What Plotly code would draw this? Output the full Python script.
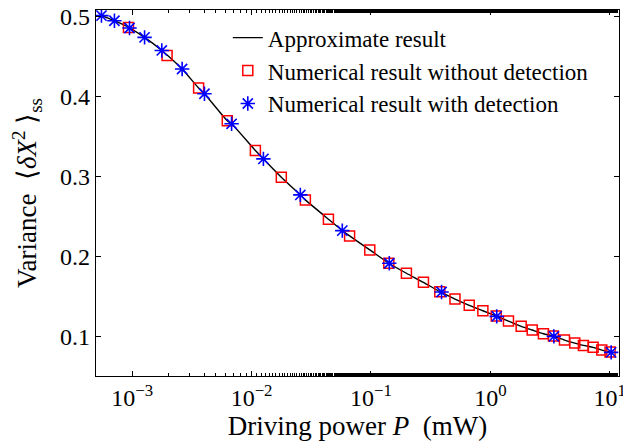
import plotly.graph_objects as go

# Approximate result (curve)
line_x = [5.53e-4, 7.1e-4, 9.4e-4, 1.27e-3, 1.77e-3, 2.62e-3, 3.6e-3, 4.03e-3, 6.26e-3, 6.8e-3,
          0.01076, 0.01256, 0.01774, 0.0256, 0.0282, 0.044, 0.0575, 0.0662, 0.0977, 0.141,
          0.198, 0.275, 0.377, 0.505, 0.665, 0.865, 1.119, 1.417, 1.81, 2.24, 2.78, 3.37,
          4.17, 5.09, 6.01, 7.25, 8.57, 10.05, 10.3]
line_y = [0.501, 0.4946, 0.486, 0.4738, 0.4575, 0.4343, 0.4105, 0.4034, 0.3696, 0.3659,
          0.3325, 0.3221, 0.2993, 0.2771, 0.2709, 0.2468, 0.2325, 0.2259, 0.2084, 0.1918,
          0.1793, 0.168, 0.1563, 0.1471, 0.1393, 0.1325, 0.1259, 0.1196, 0.113, 0.1084, 0.1038, 0.1009,
          0.0959, 0.0921, 0.0892, 0.0868, 0.0834, 0.0809, 0.0805]

# Numerical result without detection (squares)
sq_x = [9.31e-4, 1.96e-3, 3.6e-3, 6.26e-3, 0.01076, 0.01774, 0.0282, 0.044, 0.0662, 0.0977,
        0.141, 0.198, 0.275, 0.377, 0.505, 0.665, 0.865, 1.119, 1.417, 1.81,
        2.24, 2.78, 3.37, 4.17, 5.09, 6.01, 7.25, 8.57, 10.05]
sq_y = [0.4862, 0.4513, 0.4105, 0.3696, 0.3325, 0.2993, 0.2709, 0.2468, 0.2259, 0.2084,
        0.1918, 0.1793, 0.168, 0.1563, 0.1471, 0.1393, 0.1325, 0.1259, 0.1196, 0.113,
        0.1084, 0.1038, 0.1009, 0.0959, 0.0921, 0.0892, 0.0868, 0.0834, 0.0809]

# Numerical result with detection (stars)
st_x = [5.53e-4, 7.1e-4, 9.5e-4, 1.27e-3, 1.77e-3, 2.62e-3, 4.03e-3, 6.8e-3, 0.01256, 0.0256,
        0.0575, 0.1423, 0.39, 1.13, 3.4, 10.26]
st_y = [0.501, 0.4946, 0.4855, 0.4738, 0.4575, 0.4343, 0.4034, 0.3659, 0.3221, 0.2771,
        0.2325, 0.1918, 0.1559, 0.1255, 0.1005, 0.0805]

x_tickvals = [1e-3, 1e-2, 1e-1, 1e0, 1e1]
x_ticktext = ["10<sup>−3</sup>", "10<sup>−2</sup>", "10<sup>−1</sup>", "10<sup>0</sup>", "10<sup>1</sup>"]
y_tickvals = [0.1, 0.2, 0.3, 0.4, 0.5]
y_ticktext = ["0.1", "0.2", "0.3", "0.4", "0.5"]

FONT = "Liberation Serif, Times New Roman, serif"
NB = "\u00a0"

fig = go.Figure()
fig.add_trace(go.Scatter(x=line_x, y=line_y, mode="lines", name="Approximate result",
                         line=dict(color="black", width=1.4, shape="spline", smoothing=0.6)))
fig.add_trace(go.Scatter(x=sq_x, y=sq_y, mode="markers", name="Numerical result without detection",
                         marker=dict(symbol="square-open", size=10, color="#ff0000",
                                     line=dict(color="#ff0000", width=1.5))))
fig.add_trace(go.Scatter(x=st_x, y=st_y, mode="markers", name="Numerical result with detection",
                         marker=dict(symbol="asterisk-open", size=12, color="#0000ff",
                                     line=dict(color="#0000ff", width=1.6))))

axis_common = dict(showline=True, linecolor="black", linewidth=1.4, mirror="ticks",
                   ticks="inside", ticklen=5, tickwidth=1, tickcolor="black",
                   showgrid=False, zeroline=False, ticklabeloverflow="allow",
                   tickfont=dict(family=FONT, size=24, color="black"))

fig.update_xaxes(type="log", range=[-3.303, 1.077], tickvals=x_tickvals, ticktext=x_ticktext,
                 minor=dict(ticks="inside", ticklen=3, tickcolor="black", showgrid=False),
                 title=dict(text=f"Driving power{NB}<i>P</i>{NB}{NB}(mW)",
                            font=dict(family=FONT, size=27, color="black"), standoff=5),
                 **axis_common)
fig.update_yaxes(range=[0.051, 0.508], tickvals=y_tickvals, ticktext=y_ticktext,
                 title=dict(text=f"Variance{NB}{NB}⟨<i>δX</i><sup>2</sup>{NB}⟩<sub>ss</sub>",
                            font=dict(family=FONT, size=27, color="black"), standoff=21),
                 **axis_common)

# The page adds an 8px body margin; the figure is sized so that the
# photographed 631x441 window matches the reference layout.
fig.update_layout(
    width=623, height=433,
    margin=dict(l=88, r=12, t=2, b=65, autoexpand=False),
    paper_bgcolor="white", plot_bgcolor="white",
    font=dict(family=FONT, size=23, color="black"),
    showlegend=True,
    legend=dict(x=0.252, y=0.983, xanchor="left", yanchor="top", bgcolor="rgba(0,0,0,0)",
                font=dict(family=FONT, size=23, color="black"), tracegroupgap=0,
                itemwidth=30),
)

fig.write_html("out.html")
